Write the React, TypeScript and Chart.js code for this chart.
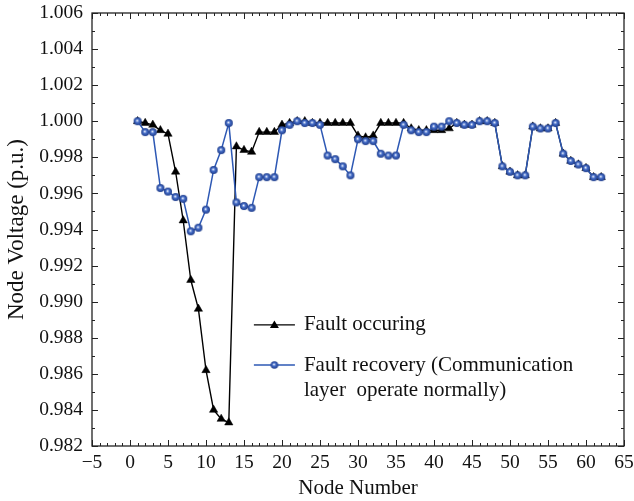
import React, { useEffect, useRef } from 'react';
import { Chart, registerables } from 'chart.js';

Chart.register(...registerables);

const nodes = [
  1, 2, 3, 4, 5, 6, 7, 8, 9, 10, 11, 12, 13, 14, 15, 16, 17, 18, 19, 20,
  21, 22, 23, 24, 25, 26, 27, 28, 29, 30, 31, 32, 33, 34, 35, 36, 37, 38, 39, 40,
  41, 42, 43, 44, 45, 46, 47, 48, 49, 50, 51, 52, 53, 54, 55, 56, 57, 58, 59, 60,
  61, 62,
];

const faultOccurring = [
  1.0000, 0.9999, 0.9998, 0.9995, 0.9993, 0.9972, 0.9945, 0.9912, 0.9896, 0.9862,
  0.9840, 0.9835, 0.9833, 0.9986, 0.9984, 0.9983, 0.9994, 0.9994, 0.9994, 0.9998,
  0.9999, 1.0000, 1.0000, 0.9999, 0.9999, 0.9999, 0.9999, 0.9999, 0.9999, 0.9992,
  0.9991, 0.9992, 0.9999, 0.9999, 0.9999, 0.9999, 0.9996, 0.9995, 0.9995, 0.9995,
  0.9995, 0.9996, 0.9999, 0.9998, 0.9998, 1.0000, 1.0000, 0.9999, 0.9975, 0.9972,
  0.9970, 0.9970, 0.9997, 0.9996, 0.9996, 0.9999, 0.9982, 0.9978, 0.9976, 0.9974,
  0.9969, 0.9969,
];

const faultRecovery = [
  1.0000, 0.9994, 0.9994, 0.9963, 0.9961, 0.9958, 0.9957, 0.9939, 0.9941, 0.9951,
  0.9973, 0.9984, 0.9999, 0.9955, 0.9953, 0.9952, 0.9969, 0.9969, 0.9969, 0.9995,
  0.9998, 1.0000, 0.9999, 0.9999, 0.9998, 0.9981, 0.9979, 0.9975, 0.9970, 0.9990,
  0.9989, 0.9989, 0.9982, 0.9981, 0.9981, 0.9998, 0.9995, 0.9994, 0.9994, 0.9997,
  0.9997, 1.0000, 0.9999, 0.9998, 0.9998, 1.0000, 1.0000, 0.9999, 0.9975, 0.9972,
  0.9970, 0.9970, 0.9997, 0.9996, 0.9996, 0.9999, 0.9982, 0.9978, 0.9976, 0.9974,
  0.9969, 0.9969,
];

const seriesLabels = ['Fault occuring', 'Fault recovery (Communication', 'layer  operate normally)'];
const xAxisTitle = 'Node Number';
const yAxisTitle = 'Node Voltage (p.u.)';
const X_MIN = -5;
const X_MAX = 65;
const X_STEP = 5;
const Y_MIN = 0.982;
const Y_MAX = 1.006;
const Y_STEP = 0.002;

const FONT = '"Liberation Serif", "Times New Roman", serif';
const BLUE = '#2d58b4';

function makeSphere(r: number): HTMLCanvasElement {
  const s = Math.ceil(r * 2 + 2);
  const c = document.createElement('canvas');
  c.width = s;
  c.height = s;
  const g = c.getContext('2d')!;
  const cx = s / 2;
  const cy = s / 2;
  const grad = g.createRadialGradient(cx - 0.5, cy - 0.7, 0.1, cx, cy, r);
  grad.addColorStop(0, '#ffffff');
  grad.addColorStop(0.2, '#9db4e6');
  grad.addColorStop(0.45, '#4169c4');
  grad.addColorStop(1, '#223f8c');
  g.fillStyle = grad;
  g.beginPath();
  g.arc(cx, cy, r, 0, Math.PI * 2);
  g.fill();
  return c;
}

const framePlugin = {
  id: 'frameTicks',
  afterDraw(chart: any) {
    const { ctx, chartArea } = chart;
    const xs = chart.scales.x;
    const ys = chart.scales.y;
    const { left, right, top, bottom } = chartArea;
    ctx.save();
    ctx.strokeStyle = '#222';
    ctx.lineWidth = 1.3;
    ctx.strokeRect(left, top, right - left, bottom - top);
    ctx.lineWidth = 1;
    ctx.beginPath();
    const nx = Math.round(X_MAX - X_MIN);
    for (let i = 0; i <= nx; i++) {
      const v = X_MIN + i;
      const px = Math.round(xs.getPixelForValue(v)) + 0.5;
      const major = i % X_STEP === 0;
      const len = major ? 6 : 3;
      ctx.moveTo(px, bottom);
      ctx.lineTo(px, bottom - len);
      ctx.moveTo(px, top);
      ctx.lineTo(px, top + len);
    }
    const ny = Math.round((Y_MAX - Y_MIN) / (Y_STEP / 2));
    for (let i = 0; i <= ny; i++) {
      const v = Y_MIN + (i * Y_STEP) / 2;
      const py = Math.round(ys.getPixelForValue(v)) + 0.5;
      const major = i % 2 === 0;
      const len = major ? 6 : 3;
      ctx.moveTo(left, py);
      ctx.lineTo(left + len, py);
      ctx.moveTo(right, py);
      ctx.lineTo(right - len, py);
    }
    ctx.stroke();

    // legend
    const lx0 = xs.getPixelForValue(16.3);
    const lx1 = xs.getPixelForValue(21.7);
    const lmid = (lx0 + lx1) / 2;
    const tx = lx1 + 9;
    const y1 = ys.getPixelForValue(0.98871);
    const y2 = ys.getPixelForValue(0.98649);
    const y3 = ys.getPixelForValue(0.98505);
    ctx.lineWidth = 1.3;
    ctx.strokeStyle = '#000';
    ctx.beginPath();
    ctx.moveTo(lx0, y1);
    ctx.lineTo(lx1, y1);
    ctx.stroke();
    ctx.fillStyle = '#000';
    ctx.beginPath();
    ctx.moveTo(lmid, y1 - 4.5);
    ctx.lineTo(lmid + 4.5, y1 + 3);
    ctx.lineTo(lmid - 4.5, y1 + 3);
    ctx.closePath();
    ctx.fill();
    ctx.strokeStyle = BLUE;
    ctx.beginPath();
    ctx.moveTo(lx0, y2);
    ctx.lineTo(lx1, y2);
    ctx.stroke();
    const sp = makeSphere(3.8);
    ctx.drawImage(sp, lmid - sp.width / 2, y2 - sp.height / 2);
    ctx.fillStyle = '#111';
    ctx.font = `21px ${FONT}`;
    ctx.textBaseline = 'middle';
    ctx.textAlign = 'left';
    ctx.fillText(seriesLabels[0], tx, y1);
    ctx.fillText(seriesLabels[1], tx, y2);
    ctx.fillText(seriesLabels[2], tx, y3);
    ctx.restore();
  },
};

export default function App() {
  const ref = useRef<HTMLCanvasElement>(null);
  useEffect(() => {
    const sphere = makeSphere(4);
    const chart = new Chart(ref.current!, {
      type: 'line',
      data: {
        datasets: [
          {
            label: seriesLabels[1],
            data: nodes.map((n, i) => ({ x: n, y: faultRecovery[i] })),
            borderColor: BLUE,
            borderWidth: 1.5,
            pointStyle: sphere as any,
            pointRadius: 4,
            backgroundColor: BLUE,
            order: 0,
          },
          {
            label: seriesLabels[0],
            data: nodes.map((n, i) => ({ x: n, y: faultOccurring[i] })),
            borderColor: '#000',
            borderWidth: 1.4,
            pointStyle: 'triangle',
            pointRadius: 4.8,
            pointBackgroundColor: '#000',
            pointBorderColor: '#000',
            pointBorderWidth: 0.5,
            order: 1,
          },
        ],
      },
      options: {
        responsive: false,
        animation: false,
        events: [],
        layout: { padding: { left: 0, top: 13, right: 10, bottom: 0 } },
        plugins: { legend: { display: false }, tooltip: { enabled: false } },
        scales: {
          x: {
            type: 'linear',
            min: X_MIN,
            max: X_MAX,
            grid: { display: false, drawTicks: false },
            border: { display: false },
            ticks: {
              stepSize: X_STEP,
              padding: 5,
              color: '#111',
              font: { family: FONT, size: 19.5 },
              callback: (v: any) => (Number(v) < 0 ? '\u2212' + Math.abs(Number(v)) : String(v)),
            },
            title: {
              display: true,
              text: xAxisTitle,
              color: '#111',
              font: { family: FONT, size: 21 },
              padding: { top: 0, bottom: 0 },
            },
            afterFit: (s: any) => {
              s.height = 55;
              s.paddingLeft = 0;
              s.paddingRight = 0;
            },
          },
          y: {
            min: Y_MIN,
            max: Y_MAX,
            grid: { display: false, drawTicks: false },
            border: { display: false },
            ticks: {
              stepSize: Y_STEP,
              padding: 9,
              color: '#111',
              font: { family: FONT, size: 19.5 },
              callback: (v: any) => Number(v).toFixed(3),
            },
            title: {
              display: true,
              text: yAxisTitle,
              color: '#111',
              font: { family: FONT, size: 23 },
              padding: { top: 3, bottom: 0 },
            },
            afterFit: (s: any) => {
              s.width = 92;
              s.paddingTop = 0;
              s.paddingBottom = 0;
            },
          },
        },
      },
      plugins: [framePlugin],
    });
    return () => chart.destroy();
  }, []);
  return (
    <div style={{ position: 'fixed', left: 0, top: 0, width: 634, height: 501, background: '#fff' }}>
      <canvas ref={ref} width={634} height={501} style={{ display: 'block' }} />
    </div>
  );
}
